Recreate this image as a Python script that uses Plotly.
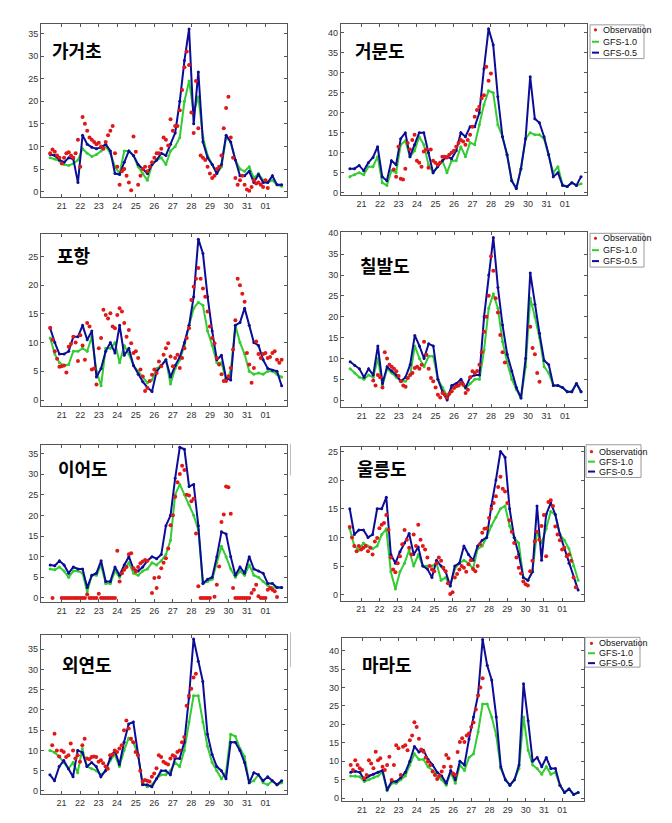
import plotly.graph_objects as go

W, H = 672, 823

# ---------------- data ----------------
day_ticks = list(range(1, 13))
day_labels = ["21", "22", "23", "24", "25", "26", "27", "28", "29", "30", "31", "01"]
model_start, model_step = 0.375, 0.25   # 6-hourly model output (days since Aug 20)
obs_start, obs_step = 0.375, 0.125      # 3-hourly observations

stations = ["가거초", "거문도", "포항", "칠발도", "이어도", "울릉도", "외연도", "마라도"]

gfs10_gageocho = [7.5,7.2,6.8,6.0,5.8,6.2,7.0,9.5,8.5,7.8,8.2,9.0,10.0,8.5,5.5,4.0,9.0,9.0,8.0,5.5,4.0,2.5,6.0,7.0,7.5,6.0,9.0,10.0,12.0,20.0,24.5,17.5,21.0,12.0,8.0,6.0,4.0,5.5,12.0,11.0,7.0,5.0,4.5,5.5,3.0,4.0,2.5,2.0,2.5,1.5,1.2]
gfs05_gageocho = [8.2,8.0,7.0,6.5,7.5,7.2,2.0,12.5,10.5,9.8,9.5,9.8,10.5,9.0,4.0,3.8,6.5,9.0,8.0,6.0,5.0,4.0,6.0,7.0,8.5,8.0,10.5,13.0,20.0,29.0,36.0,15.0,26.5,11.0,7.5,6.0,4.0,6.0,12.5,11.0,7.0,3.5,3.5,4.5,2.0,3.8,2.0,2.0,3.5,1.5,1.5]
obs_gageocho = [8.5,9.3,8.8,8.0,7.5,6.2,7.5,8.5,8.7,8.0,
                7.5,8.5,11.5,5.5,16.5,15.0,13.5,12.0,11.5,11.0,
                10.5,10.8,10.0,9.5,11.0,12.5,13.5,14.5,8.5,5.5,
                1.5,4.5,5.0,3.5,2.0,0.3,12.2,8.8,1.5,3.5,
                5.0,5.5,4.5,5.5,6.5,7.5,8.5,8.5,9.5,12.0,
                11.5,10.2,16.0,13.5,14.5,14.5,18.0,22.5,27.5,31.0,
                28.0,17.5,13.0,24.5,14.0,8.0,7.5,7.0,5.5,4.0,
                3.0,3.5,5.0,5.5,8.0,14.0,18.5,21.0,12.0,7.5,
                3.0,1.5,2.5,3.5,1.5,0.5,0.2,1.0,2.5,1.8,
                2.0,1.5,1.0,2.5,0.8]

gfs10_geomundo = [4.0,4.5,5.0,4.5,6.5,6.5,9.0,2.5,1.8,5.5,5.0,12.0,13.0,9.0,10.5,14.0,12.0,7.0,5.0,6.5,8.0,5.0,8.0,8.0,11.5,9.0,12.5,12.0,17.0,22.0,25.5,25.0,17.0,14.0,9.5,3.0,1.0,6.0,13.5,15.0,14.5,14.5,13.5,9.5,5.0,6.5,2.0,1.5,2.5,1.8,2.2]
gfs05_geomundo = [6.0,6.0,6.8,5.5,7.5,8.8,11.5,4.0,3.0,8.0,7.0,13.5,15.0,9.0,12.0,15.0,15.0,10.0,5.0,6.5,8.0,9.0,8.5,10.5,15.0,14.0,16.5,16.5,20.0,31.0,41.0,37.0,24.0,14.0,9.5,3.0,1.0,6.0,13.5,29.0,18.5,17.5,14.0,9.5,4.0,5.0,1.8,1.5,2.5,1.8,4.0]
obs_geomundo = [None] * 19 + [5.8,4.0,11.5,3.5,3.3,6.0,12.4,10.8,13.2,14.5,
                              8.0,7.5,6.5,10.3,10.8,6.2,10.8,8.0,7.5,7.0,
                              7.5,9.0,9.0,8.8,9.5,10.0,10.5,11.5,12.4,13.2,
                              12.8,12.0,13.2,14.5,16.5,19.0,20.7,21.5,23.6,24.4,
                              31.5,28.0,29.8]

gfs10_pohang = [10.8,8.0,6.5,6.0,6.2,8.5,8.5,9.0,8.5,11.0,5.0,2.5,9.0,9.0,10.0,6.5,9.5,8.0,6.0,5.0,4.0,3.0,3.5,5.5,6.0,7.0,2.8,5.5,7.0,9.5,13.0,16.0,17.0,16.5,12.0,9.5,6.5,6.5,3.5,5.0,13.0,10.0,8.0,5.0,4.5,4.7,4.5,5.0,5.0,4.5,4.0]
gfs05_pohang = [12.5,10.0,8.0,8.0,8.5,11.0,11.0,13.0,10.5,12.0,4.0,5.5,8.5,10.0,8.2,13.0,7.8,9.0,6.0,4.5,3.2,2.2,1.5,5.0,6.0,7.0,4.0,6.0,7.5,10.0,13.0,18.0,28.0,25.5,18.0,12.0,7.0,7.8,3.8,3.5,13.0,13.5,16.0,13.0,10.0,9.5,7.0,5.5,5.2,5.0,2.5]
obs_pohang = [12.6,10.5,8.5,7.2,5.8,5.9,6.0,4.8,9.3,9.8,
              11.0,10.0,6.8,11.3,9.5,7.0,13.4,12.8,5.3,5.5,
              2.7,9.0,10.8,15.7,14.8,14.2,15.1,12.8,12.5,14.8,
              16.0,15.4,13.4,11.0,12.2,9.9,8.2,8.5,7.3,5.3,
              4.1,1.6,2.1,3.3,4.4,5.3,4.7,6.7,5.9,7.9,
              9.0,9.9,7.6,5.9,7.3,7.9,5.6,7.3,9.0,10.8,
              12.5,17.4,19.7,21.1,23.0,21.1,19.4,18.0,15.4,12.8,
              10.8,9.9,7.3,6.2,4.5,3.3,3.3,4.1,5.6,8.8,
              13.9,21.1,20.0,18.5,17.1,8.2,6.2,3.0,5.6,10.2,
              8.0,7.3,8.0,8.2,7.3,7.5,8.2,8.5,7.0,6.5,
              7.0]

gfs10_chilbaldo = [7.5,6.5,5.5,5.0,6.0,5.5,10.0,3.5,7.5,6.5,5.5,4.5,4.5,6.0,13.0,10.0,8.0,10.5,10.5,5.0,3.0,1.0,3.0,3.5,4.0,2.8,4.0,5.0,5.0,12.0,22.0,25.5,22.0,14.0,9.0,5.0,2.5,0.5,8.0,24.5,20.0,15.0,8.0,6.5,3.5,3.5,3.0,2.0,2.0,4.0,2.0]
gfs05_chilbaldo = [9.2,8.3,7.5,5.5,7.5,6.0,13.0,4.0,8.0,7.0,6.0,4.5,5.5,8.5,15.5,13.0,10.0,13.5,13.0,5.0,2.0,0.0,3.5,4.0,5.0,3.0,5.5,6.0,6.0,20.0,30.0,39.0,27.0,18.0,11.0,7.0,3.0,0.5,10.0,30.5,23.0,16.0,9.5,8.5,3.5,3.5,3.0,2.0,2.0,4.0,2.0]
obs_chilbaldo = [None] * 10 + [4.7,3.5,6.0,5.5,3.0,11.5,10.0,8.5,8.0,7.5,
                               6.9,5.8,4.5,3.5,3.2,5.3,6.0,6.5,7.7,8.0,
                               7.5,8.5,14.0,10.9,7.5,5.3,4.5,3.0,1.3,0.6,
                               1.7,1.3,0.6,1.5,2.1,2.9,3.3,3.5,4.1,3.7,
                               1.7,2.5,5.5,6.9,6.5,7.0,8.5,11.5,16.4,20.0,
                               25.0,34.5,31.0,24.4,21.0,15.6,11.5,9.0] + [None] * 10 + [17.6,12.5,11.0,6.5,4.4]

gfs10_ieodo = [7.0,6.8,7.5,6.5,5.0,6.5,6.5,6.0,1.5,5.5,5.5,8.0,3.5,3.5,6.5,5.0,7.0,8.5,6.0,5.5,6.5,7.0,8.5,8.0,9.0,10.5,14.0,25.0,27.5,25.0,22.5,20.0,16.5,3.5,4.0,4.5,8.5,12.5,10.0,7.0,5.0,6.5,5.5,8.0,5.5,5.0,4.0,3.0,2.5,2.5,2.5]
gfs05_ieodo = [8.0,7.8,9.0,8.0,6.0,7.5,7.0,7.0,2.5,5.5,6.0,9.0,4.0,4.0,7.5,5.5,8.0,10.0,7.0,6.5,7.5,9.0,10.0,9.5,10.5,17.5,20.0,29.0,36.5,36.0,27.0,27.5,17.5,3.5,4.5,5.0,10.0,16.0,15.5,10.0,5.5,7.5,6.0,10.0,7.0,6.5,6.0,3.5,3.5,2.5,2.5]
obs_ieodo = ([None, 0.0, None, None, None]
             + [0.0] * 11 + [0.8] + [0.0] * 4 + [1.0] + [0.0] * 7
             + [11.4,4.0,6.0,6.8,7.5,10.6,10.8,7.2,6.4,7.5,8.4,8.8,9.2,9.0]
             + [None]
             + [1.2,4.8,2.4,5.0,7.2,8.5,9.6,12.0,17.6,20.0,24.5,28.0,30.0,32.0,31.0,25.0,24.8,23.4,24.0,15.6,2.8]
             + [0.0] * 5 + [None]
             + [0.3,3.2,7.6,18.4,20.2,27.0,26.8,20.4,2.4]
             + [0.0] * 7
             + [1.2,2.0,3.2,0.4,0.0,0.0,0.0,2.0,2.4,2.0,1.6,0.2])

gfs10_ulleungdo = [11.5,8.5,7.8,9.0,8.5,8.0,8.5,10.5,11.5,4.0,1.0,4.0,5.5,7.8,5.0,7.0,5.0,5.0,5.0,5.5,2.5,3.0,1.5,4.5,5.5,6.0,5.5,4.5,8.0,8.5,10.0,12.0,13.5,15.0,15.5,12.0,10.0,9.0,3.0,2.5,4.0,11.0,9.0,11.5,14.5,14.0,10.5,9.5,8.0,5.0,2.5]
gfs05_ulleungdo = [15.0,10.5,11.3,11.3,10.0,10.5,15.0,15.0,17.0,7.0,5.5,7.5,9.0,10.7,7.0,8.3,5.0,4.5,3.0,6.0,5.0,4.0,1.5,5.0,5.5,8.5,7.0,6.0,8.5,9.5,10.0,15.5,20.0,25.0,24.0,15.0,10.0,7.0,3.0,2.5,4.0,15.5,6.0,14.0,16.0,14.0,10.5,8.0,5.5,3.0,0.8]
obs_ulleungdo = [11.8,10.0,8.5,7.6,8.5,7.9,8.2,8.5,7.6,8.2,
                 7.0,9.3,9.9,11.6,12.2,12.5,13.9,11.3,6.5,4.4,
                 3.9,5.5,6.7,8.8,11.3,9.6,8.2,7.0,10.5,8.5,
                 12.2,9.6,8.5,7.9,6.5,5.0,4.4,4.1,5.5,6.5,
                 5.9,4.7,4.1,2.0,0.1,0.4,3.0,3.6,4.4,5.0,
                 4.7,4.0,5.3,6.0,4.5,4.1,5.0,8.8,10.8,11.5,
                 11.6,13.4,15.0,16.0,17.2,18.8,20.6,18.5,18.0,16.0,
                 13.0,11.0,9.0,6.5,4.7,3.7,2.3,1.8,1.6,4.1,
                 5.9,9.3,11.0,9.6,12.0,13.9,6.7,16.2,16.5,15.5,
                 11.9,10.5,9.5,7.9,8.2,6.7,7.0,5.9,3.0,1.3]

gfs10_oeyeondo = [10.0,9.5,8.5,7.0,5.5,7.0,4.5,10.5,6.0,5.5,5.0,4.0,5.0,7.5,9.0,6.0,10.0,13.0,12.0,9.0,2.0,1.0,1.5,3.0,4.0,4.0,5.0,7.0,6.0,10.0,17.0,23.5,23.5,17.0,11.0,7.0,5.0,3.0,4.5,14.0,13.5,10.5,8.5,2.0,2.5,4.0,2.0,1.5,2.5,1.5,2.0]
gfs05_oeyeondo = [4.0,2.5,6.0,7.5,5.5,3.5,10.0,9.5,6.0,7.0,6.0,3.5,5.0,8.0,10.0,6.5,12.0,16.5,17.0,9.0,1.5,1.5,1.0,3.0,5.0,5.0,4.0,8.0,8.0,12.0,23.0,37.5,32.0,27.0,14.0,9.0,6.0,5.0,3.0,12.0,12.0,10.0,7.0,2.0,4.5,4.0,2.5,3.5,2.5,1.5,2.5]
obs_oeyeondo = [None,
                11.3,14.1,10.0,8.5,10.0,9.6,8.4,8.8,11.7,10.0,
                8.0,8.8,7.2,11.3,12.9,8.0,7.8,8.4,8.5,8.4,
                7.2,7.6,6.8,6.0,5.5,8.8,9.0,10.0,9.6,10.5,
                11.3,15.0,17.4,15.4,12.9,12.0,9.6,8.8,5.0,2.3,
                2.7,2.5,2.3,3.5,4.3,5.6,8.8,8.4,7.2,6.8,
                6.5,8.0,8.8,8.5,9.6,10.0,12.0,13.3,21.0,23.5,
                25.2,28.0,28.9]

gfs10_marado = [6.0,6.0,5.8,4.5,5.0,5.5,6.0,7.0,2.0,4.0,4.0,5.0,6.0,9.0,12.0,10.5,10.5,8.5,7.5,6.0,5.0,3.5,7.0,4.0,9.0,7.5,11.0,12.0,18.0,25.5,25.5,22.0,17.0,8.0,5.0,3.5,5.0,8.0,22.0,13.0,9.0,8.0,6.5,8.5,6.5,7.0,3.5,1.5,2.5,1.0,1.5]
gfs05_marado = [7.0,7.3,7.0,5.0,6.0,6.5,7.0,7.5,2.3,4.5,4.5,5.5,7.0,10.0,14.0,12.5,13.0,10.5,9.0,7.0,6.0,4.0,7.5,5.0,10.0,9.0,16.0,22.0,28.0,43.0,36.0,32.0,22.0,8.5,5.0,3.5,5.0,9.0,31.0,21.0,10.0,11.0,8.5,11.0,8.0,8.0,3.5,1.5,2.5,1.0,1.5]
obs_marado = [9.0,7.6,10.3,9.0,8.1,7.6,5.4,6.3,10.3,9.4,
              8.1,12.6,10.3,10.8,8.5,7.6,9.0,11.2,4.9,9.0,
              14.3,13.5,6.3,13.9,14.3,13.0,15.7,17.0,20.6,19.3,
              16.1,13.2,12.6,11.0,9.9,9.0,7.2,6.3,5.2,6.0,
              7.2,8.5,11.7,10.8,8.5,6.7,6.3,12.5,15.2,16.2,
              15.2,17.0,17.5,19.3,20.5,24.0,27.8,30.0,32.5]

legend_names = ["Observation", "GFS-1.0", "GFS-0.5"]

# ---------------- styling / layout (pixels) ----------------
C_OBS = "#e01818"
C_G10 = "#33cc33"
C_G05 = "#0c0c96"
X_RANGE = [-0.12, 13.18]

panels = [
    dict(g10=gfs10_gageocho, g05=gfs05_gageocho, obs=obs_gageocho, box=(41, 20, 287.3, 194.3), yr=(-1.16, 37.13), ymax=35, title=(77, 46.7), leg=None),
    dict(g10=gfs10_geomundo, g05=gfs05_geomundo, obs=obs_geomundo, box=(340.7, 20, 586.7, 192.7), yr=(-0.67, 42.24), ymax=40, title=(380, 46.7), leg=(590, 21, 644, 55, 601, 26, 38, 49)),
    dict(g10=gfs10_pohang, g05=gfs05_pohang, obs=obs_pohang, box=(41, 231.7, 287.3, 405), yr=(-1.04, 28.9), ymax=25, title=(74.3, 252.5), leg=None),
    dict(g10=gfs10_chilbaldo, g05=gfs05_chilbaldo, obs=obs_chilbaldo, box=(341, 230, 586.7, 406), yr=(-1.67, 40.24), ymax=40, title=(385, 263), leg=(590, 231, 644, 265, 601, 236, 248, 259)),
    dict(g10=gfs10_ieodo, g05=gfs05_ieodo, obs=obs_ieodo, box=(41, 444, 287.3, 602.7), yr=(-1.06, 37.1), ymax=35, title=(82.5, 467.5), leg=None),
    dict(g10=gfs10_ulleungdo, g05=gfs05_ulleungdo, obs=obs_ulleungdo, box=(340.7, 446.5, 583.7, 601), yr=(-1.04, 25.74), ymax=25, title=(381.8, 467.5), leg=(586, 444, 641, 477, 597, 451, 461, 471)),
    dict(g10=gfs10_oeyeondo, g05=gfs05_oeyeondo, obs=obs_oeyeondo, box=(40.7, 636, 287.3, 796), yr=(-0.81, 38.4), ymax=35, title=(86.7, 665), leg=None),
    dict(g10=gfs10_marado, g05=gfs05_marado, obs=obs_marado, box=(341.7, 638.3, 583.7, 803.3), yr=(-0.9, 43.5), ymax=40, title=(386.8, 665), leg=(585, 638, 640, 668, 597, 644, 654, 664)),
]


def px(x):
    return x / W


def py(y):
    return 1 - y / H


fig = go.Figure()
layout = dict(
    width=W, height=H, margin=dict(l=0, r=0, t=0, b=0),
    paper_bgcolor="white", plot_bgcolor="white", showlegend=False,
)
shapes = []
annotations = []
tick_font = dict(family="Liberation Sans Narrow, Arial, sans-serif", size=9, color="#333333")

for i, p in enumerate(panels):
    n = i + 1
    xa = "x" if n == 1 else f"x{n}"
    ya = "y" if n == 1 else f"y{n}"
    x0, y0, x1, y1 = p["box"]
    t_model = [model_start + model_step * k for k in range(len(p["g10"]))]
    t_model05 = [model_start + model_step * k for k in range(len(p["g05"]))]
    t_obs = [obs_start + obs_step * j for j in range(len(p["obs"]))]

    fig.add_trace(go.Scatter(x=t_model, y=p["g10"], mode="lines+markers", name="GFS-1.0",
                             line=dict(color=C_G10, width=2), marker=dict(size=3, color=C_G10),
                             xaxis=xa, yaxis=ya, showlegend=False))
    fig.add_trace(go.Scatter(x=t_model05, y=p["g05"], mode="lines+markers", name="GFS-0.5",
                             line=dict(color=C_G05, width=2), marker=dict(size=3, color=C_G05),
                             xaxis=xa, yaxis=ya, showlegend=False))
    fig.add_trace(go.Scatter(x=t_obs, y=p["obs"], mode="markers", name="Observation",
                             marker=dict(size=4, color=C_OBS),
                             xaxis=xa, yaxis=ya, showlegend=False))

    axis_common = dict(showline=True, linecolor="#555555", linewidth=1, mirror="ticks",
                       ticks="inside", ticklen=3, tickcolor="#555555", tickfont=tick_font,
                       showgrid=False, zeroline=False, fixedrange=True)
    layout["xaxis" if n == 1 else f"xaxis{n}"] = dict(
        domain=[px(x0), px(x1)], anchor=ya, range=X_RANGE,
        tickmode="array", tickvals=day_ticks, ticktext=day_labels, **axis_common)
    layout["yaxis" if n == 1 else f"yaxis{n}"] = dict(
        domain=[py(y1), py(y0)], anchor=xa, range=list(p["yr"]),
        tickmode="array", tickvals=list(range(0, p["ymax"] + 1, 5)), **axis_common)

    tx, ty = p["title"]
    annotations.append(dict(text=stations[i], x=px(tx), y=py(ty), xref="paper", yref="paper",
                            showarrow=False, xanchor="center", yanchor="middle",
                            font=dict(family="Noto Sans CJK KR", size=18, color="black", weight=700)))

    if p["leg"]:
        bx0, by0, bx1, by1, tx0, r1, r2, r3 = p["leg"]
        shapes.append(dict(type="rect", xref="paper", yref="paper", x0=px(bx0), x1=px(bx1),
                           y0=py(by1), y1=py(by0), line=dict(color="#9a9a9a", width=1),
                           fillcolor="white", layer="above"))
        sx0, sx1 = tx0 - 9, tx0 - 2
        cx = (sx0 + sx1) / 2
        # observation dot
        shapes.append(dict(type="circle", xref="paper", yref="paper",
                           x0=px(cx - 1.6), x1=px(cx + 1.6), y0=py(r1 + 1.6), y1=py(r1 - 1.6),
                           fillcolor=C_OBS, line=dict(width=0), layer="above"))
        for ry, col in ((r2, C_G10), (r3, C_G05)):
            shapes.append(dict(type="line", xref="paper", yref="paper", x0=px(sx0), x1=px(sx1),
                               y0=py(ry), y1=py(ry), line=dict(color=col, width=2), layer="above"))
        for ry, txt in zip((r1, r2, r3), legend_names):
            annotations.append(dict(text=txt, x=px(tx0), y=py(ry), xref="paper", yref="paper",
                                    showarrow=False, xanchor="left", yanchor="middle",
                                    font=dict(family="Liberation Sans Narrow, Arial, sans-serif",
                                              size=9, color="#111111")))

# faint remnants of cropped legend frames at the right of two left-column panels
shapes.append(dict(type="line", xref="paper", yref="paper", x0=px(290.5), x1=px(290.5),
                   y0=py(475), y1=py(443), line=dict(color="#bdbdbd", width=1)))
shapes.append(dict(type="line", xref="paper", yref="paper", x0=px(290.5), x1=px(290.5),
                   y0=py(668), y1=py(633), line=dict(color="#bdbdbd", width=1)))

layout["shapes"] = shapes
layout["annotations"] = annotations
fig.update_layout(**layout)
fig.write_html("out.html")
